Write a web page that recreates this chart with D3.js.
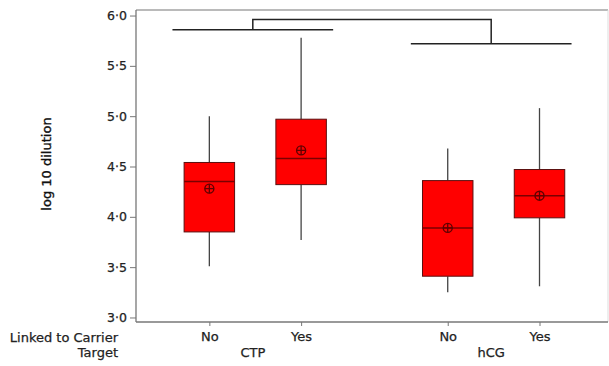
<!DOCTYPE html>
<html>
<head>
<meta charset="utf-8">
<script src="https://cdn.jsdelivr.net/npm/d3@7"></script>
<style>
  body { margin: 0; background: #fff; }
  svg { display: block; font-family: "DejaVu Sans", Verdana, sans-serif; }
</style>
</head>
<body>
<script>
// data
const targets = ["CTP", "hCG"]
const linked = ["No", "Yes"]
const boxTarget = ["CTP", "CTP", "hCG", "hCG"]
const boxLinked = ["No", "Yes", "No", "Yes"]
const whiskLow = [3.51, 3.77, 3.25, 3.31]
const q1 = [3.85, 4.32, 3.41, 3.99]
const medians = [4.35, 4.58, 3.89, 4.21]
const q3 = [4.54, 4.97, 4.36, 4.47]
const whiskHigh = [5.00, 5.78, 4.68, 5.08]
const means = [4.28, 4.66, 3.89, 4.21]
const yTicks = [3.0, 3.5, 4.0, 4.5, 5.0, 5.5, 6.0]
// grouping bracket: level of each target's bar and of the join
const bracketLevel = [5.86, 5.72]
const joinLevel = 5.96

const width = 609, height = 366
const plotLeft = 136, plotRight = 608, plotTop = 10, plotBottom = 322

let canvas = d3.select("body")
                .append("svg")
                .attr("width", width)
                .attr("height", height)

const y = d3.scaleLinear()
            .domain([2.955, 6.055])
            .range([plotBottom, plotTop])

const xGroup = d3.scaleBand()
                .domain(targets)
                .range([plotLeft, plotRight])
                .paddingInner(0.2)
                .paddingOuter(0.09)

const xInner = d3.scaleBand()
                .domain(linked)
                .range([0, xGroup.bandwidth()])
                .paddingInner(0.45)
                .paddingOuter(0.264)
                .align(0.55)

const boxes = boxTarget.map((t, i) => ({
    target: t, linked: boxLinked[i],
    lo: whiskLow[i], q1: q1[i], med: medians[i], q3: q3[i], hi: whiskHigh[i], mean: means[i],
    x: xGroup(t) + xInner(boxLinked[i])
}))
const bw = xInner.bandwidth()

// text is a touch heavier in the original
const heavy = sel => sel.attr("stroke", "#222").attr("stroke-width", 0.25)

// frame
const gFrame = canvas.append("g").attr("fill", "none")
gFrame.append("line").attr("x1", plotLeft).attr("x2", plotRight).attr("y1", plotTop).attr("y2", plotTop)
      .attr("stroke", "#777").attr("stroke-width", 1.2)
gFrame.append("line").attr("x1", plotRight).attr("x2", plotRight).attr("y1", plotTop).attr("y2", plotBottom)
      .attr("stroke", "#ddd").attr("stroke-width", 1)

// y axis
const yAxis = canvas.append("g")
               .attr("transform", `translate(${plotLeft},0)`)
               .call(d3.axisLeft(y)
                        .tickValues(yTicks)
                        .tickSize(6)
                        .tickPadding(3)
                        .tickFormat(d => d3.format(".1f")(d).replace(".", "\u00b7")))
yAxis.select(".domain").attr("d", `M0,${plotTop}V${plotBottom}`).attr("stroke", "#777").attr("stroke-width", 1.3)
yAxis.selectAll(".tick line").attr("stroke", "#777")
yAxis.selectAll(".tick text").attr("font-size", 12.5).attr("fill", "#222")
     .attr("font-family", "DejaVu Sans, Verdana, sans-serif")
     .call(heavy)

// x axis, one tick per box
const xKey = d3.scaleOrdinal()
               .domain(boxes.map(b => b.target + "|" + b.linked))
               .range(boxes.map(b => b.x + bw / 2))

const xAxis = canvas.append("g")
               .attr("transform", `translate(0,${plotBottom})`)
               .call(d3.axisBottom(xKey)
                        .tickSizeOuter(0)
                        .tickSize(4)
                        .tickPadding(6)
                        .tickFormat(d => d.split("|")[1]))
xAxis.select(".domain").attr("d", `M${plotLeft},0H${plotRight}`).attr("stroke", "#777").attr("stroke-width", 1.3)
xAxis.selectAll(".tick line").attr("stroke", "#777")
xAxis.selectAll(".tick text").attr("font-size", 13).attr("fill", "#222")
     .attr("font-family", "DejaVu Sans, Verdana, sans-serif")
     .call(heavy)

// group labels under the ticks
canvas.append("g")
      .selectAll("text")
      .data(targets)
      .join("text")
        .attr("x", d => xGroup(d) + xGroup.bandwidth() / 2)
        .attr("y", 357)
        .attr("text-anchor", "middle")
        .attr("font-size", 13)
        .attr("fill", "#222")
        .call(heavy)
        .text(d => d)

// row titles
const rowTitles = canvas.append("g").attr("text-anchor", "end").attr("font-size", 13).attr("fill", "#222")
                        .call(heavy)
rowTitles.append("text").attr("x", 118).attr("y", 342).text("Linked to Carrier")
rowTitles.append("text").attr("x", 118).attr("y", 357).text("Target")

// y axis title
canvas.append("text")
      .attr("transform", `translate(51,${(plotTop + plotBottom) / 2 - 2}) rotate(-90)`)
      .attr("text-anchor", "middle")
      .attr("font-size", 13)
      .attr("fill", "#111")
      .attr("stroke", "#111")
      .attr("stroke-width", 0.35)
      .text("log 10 dilution")

// grouping brackets
const gBracket = canvas.append("g")
                .attr("fill", "none")
                .attr("stroke", "#222")
                .attr("stroke-width", 1.5)
const inset = 15
gBracket.selectAll("line.bar")
        .data(targets)
        .join("line")
          .attr("class", "bar")
          .attr("x1", d => xGroup(d) + inset)
          .attr("x2", d => xGroup(d) + xGroup.bandwidth() - inset)
          .attr("y1", (d, i) => y(bracketLevel[i]))
          .attr("y2", (d, i) => y(bracketLevel[i]))
const mid = d => xGroup(d) + xGroup.bandwidth() / 2
gBracket.append("path")
        .attr("d", `M${mid(targets[0])},${y(bracketLevel[0])}V${y(joinLevel)}H${mid(targets[1])}V${y(bracketLevel[1])}`)

// boxes
const gBox = canvas.append("g")
const box = gBox.selectAll("g.box")
               .data(boxes)
               .join("g")
                 .attr("class", "box")

box.append("line")
   .attr("x1", d => d.x + bw / 2).attr("x2", d => d.x + bw / 2)
   .attr("y1", d => y(d.hi)).attr("y2", d => y(d.q3))
   .attr("stroke", "#444").attr("stroke-width", 1.3)
box.append("line")
   .attr("x1", d => d.x + bw / 2).attr("x2", d => d.x + bw / 2)
   .attr("y1", d => y(d.q1)).attr("y2", d => y(d.lo))
   .attr("stroke", "#444").attr("stroke-width", 1.3)
box.append("rect")
   .attr("x", d => d.x)
   .attr("y", d => y(d.q3))
   .attr("width", bw)
   .attr("height", d => y(d.q1) - y(d.q3))
   .attr("fill", "#ff0000")
   .attr("stroke", "#5a1010")
   .attr("stroke-width", 1)
box.append("line")
   .attr("x1", d => d.x).attr("x2", d => d.x + bw)
   .attr("y1", d => y(d.med)).attr("y2", d => y(d.med))
   .attr("stroke", "#7a0000").attr("stroke-width", 1.5)

// mean symbol: circle with cross
const r = 4.5
box.append("circle")
   .attr("cx", d => d.x + bw / 2)
   .attr("cy", d => y(d.mean))
   .attr("r", r)
   .attr("fill", "none")
   .attr("stroke", "#600000")
   .attr("stroke-width", 1.4)
box.append("path")
   .attr("d", d => {
       const cx = d.x + bw / 2, cy = y(d.mean)
       return `M${cx - r},${cy}H${cx + r}M${cx},${cy - r}V${cy + r}`
   })
   .attr("stroke", "#600000")
   .attr("stroke-width", 1.3)
</script>
</body>
</html>
